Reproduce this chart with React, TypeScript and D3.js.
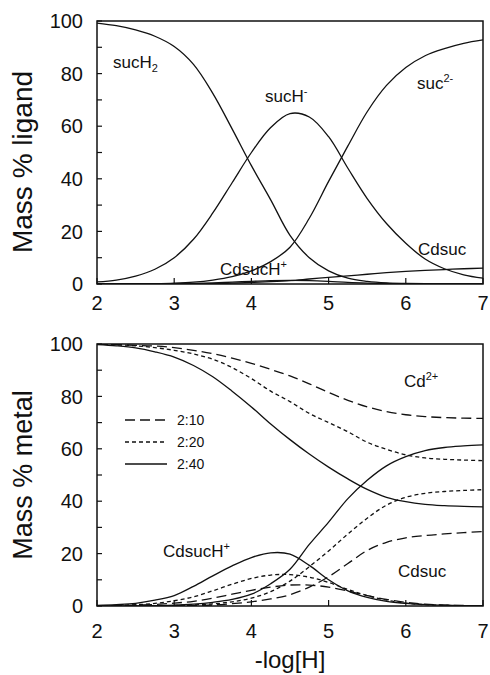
import React from "react";
import * as d3 from "d3";

// -log[H] grid shared by every curve
const pH = [2, 2.25, 2.5, 2.75, 3, 3.25, 3.5, 3.75, 4, 4.25, 4.5, 4.75, 5, 5.25, 5.5, 5.75, 6, 6.25, 6.5, 6.75, 7];

// ----- top panel: mass % ligand
const sucH2 = [99.2, 98.2, 96.6, 94.2, 90.3, 83.5, 72.5, 59, 45, 32, 18.5, 10, 5, 2.2, 1, 0.4, 0.2, 0.1, 0, 0, 0];
const sucH = [0.8, 1.5, 3, 5.6, 10, 17, 27, 38.5, 50, 59.5, 64.8, 63.5, 56, 44, 32.5, 23, 15.5, 9.5, 5.8, 3.5, 2.2];
const suc = [0, 0, 0, 0.1, 0.3, 0.7, 1.5, 2.8, 5, 8.5, 14, 25, 39, 52.5, 65.5, 75.5, 82.3, 86.8, 89.5, 91.5, 92.8];
const cdsucL = [0, 0, 0, 0, 0, 0.05, 0.15, 0.3, 0.6, 0.9, 1.3, 1.9, 2.5, 3.1, 3.7, 4.3, 4.8, 5.2, 5.5, 5.8, 6];
const cdsucHL = [0, 0, 0, 0.05, 0.1, 0.2, 0.4, 0.7, 1, 1.3, 1.4, 1.3, 1, 0.6, 0.35, 0.2, 0.1, 0.05, 0, 0, 0];

// ----- bottom panel: mass % metal, ratios 2:10, 2:20, 2:40
const cd10 = [100, 99.8, 99.5, 99.2, 98.6, 97.6, 96.3, 94.6, 92.6, 90.3, 87.8, 84.8, 81.5, 78.5, 76, 74.2, 73, 72.3, 71.9, 71.7, 71.6];
const cd20 = [100, 99.7, 99.3, 98.6, 97.6, 96.2, 94.2, 91, 86.8, 82, 78, 73.5, 70, 66.5, 62.5, 59.8, 57.7, 56.5, 56, 55.7, 55.5];
const cd40 = [99.8, 99.3, 98.5, 97, 95, 91.8, 87.5, 82, 76, 69.5, 63.5, 58, 53, 48.5, 44.5, 41.5, 39.8, 38.8, 38.3, 38, 37.8];
const cdsuc10 = [0, 0, 0, 0, 0.1, 0.2, 0.4, 0.9, 1.6, 2.7, 4.3, 7.2, 11.2, 16.2, 21.2, 24.3, 26, 26.9, 27.5, 28, 28.4];
const cdsuc20 = [0, 0, 0, 0.1, 0.2, 0.4, 0.8, 1.6, 3, 5.5, 9.5, 15, 21, 27.5, 33.5, 38.5, 41.5, 43, 43.7, 44.1, 44.4];
const cdsuc40 = [0, 0, 0.05, 0.15, 0.3, 0.7, 1.4, 2.5, 4.5, 8.5, 14, 23.5, 32, 41, 48, 53.5, 57, 59.3, 60.5, 61.1, 61.5];
const cdsucH10 = [0, 0.1, 0.3, 0.6, 1.1, 1.8, 3, 4.5, 6, 7.2, 8, 8, 7.2, 5.7, 4, 2.5, 1.4, 0.7, 0.35, 0.2, 0.1];
const cdsucH20 = [0, 0.2, 0.5, 1, 2, 3.5, 5.8, 8.3, 10.5, 11.8, 12, 11, 9, 6.3, 4, 2.2, 1.1, 0.5, 0.25, 0.1, 0.05];
const cdsucH40 = [0.2, 0.5, 1, 2.2, 4, 7.5, 11.5, 15.3, 18.5, 20.3, 19.8, 15.5, 10, 5.8, 3.3, 1.8, 1, 0.5, 0.3, 0.15, 0.1];

const ratios = ["2:10", "2:20", "2:40"];
const dashes = ["10,5", "4,3", null];
const xTicks = [2, 3, 4, 5, 6, 7];
const yTicks = [0, 20, 40, 60, 80, 100];

const FONT = "'Liberation Sans', Arial, Helvetica, sans-serif";
const LEFT = 97;
const RIGHT = 483;

const Panel = ({ top, bottom, series, yTitle, titleY, titleSize, tickBase, children }) => {
  const x = d3.scaleLinear().domain([2, 7]).range([LEFT, RIGHT]);
  const y = d3.scaleLinear().domain([0, 100]).range([bottom, top]);
  const line = d3
    .line<number>()
    .x((_, i) => x(pH[i]))
    .y(d => y(Math.max(0, d)))
    .curve(d3.curveCatmullRom.alpha(0.5));
  const minor = d3.range(0, 101, 10);

  return (
    <g>
      <defs>
        <clipPath id={"clip" + top}>
          <rect x={LEFT} y={top} width={RIGHT - LEFT} height={bottom - top} />
        </clipPath>
      </defs>
      <g clipPath={`url(#clip${top})`}>
        {series.map((s, i) => (
          <path
            key={i}
            d={line(s.values)}
            fill="none"
            stroke="#111"
            strokeWidth={1.3}
            strokeDasharray={s.dash || undefined}
          />
        ))}
      </g>
      <rect x={LEFT} y={top} width={RIGHT - LEFT} height={bottom - top} fill="none" stroke="#111" strokeWidth={1.5} />
      {minor.map(t => (
        <line key={"y" + t} x1={LEFT} x2={LEFT + 5} y1={y(t)} y2={y(t)} stroke="#111" strokeWidth={1.2} />
      ))}
      {xTicks.map(t => (
        <line key={"x" + t} x1={x(t)} x2={x(t)} y1={bottom} y2={bottom - 6} stroke="#111" strokeWidth={1.2} />
      ))}
      {yTicks.map(t => (
        <text key={"yl" + t} x={83} y={y(t)} dy="0.36em" textAnchor="end" fontSize={20}>
          {t}
        </text>
      ))}
      {xTicks.map(t => (
        <text key={"xl" + t} x={x(t)} y={tickBase} textAnchor="middle" fontSize={20}>
          {t}
        </text>
      ))}
      <text transform={`translate(32,${titleY}) rotate(-90)`} textAnchor="middle" fontSize={titleSize}>
        {yTitle}
      </text>
      {children}
    </g>
  );
};

const Sup = ({ children }) => (
  <tspan fontSize={11} dy={-7}>
    {children}
  </tspan>
);

export default function App() {
  const topSeries = [sucH2, sucH, suc, cdsucL, cdsucHL].map(v => ({ values: v, dash: null }));
  const metal = [
    [cd10, cdsuc10, cdsucH10],
    [cd20, cdsuc20, cdsucH20],
    [cd40, cdsuc40, cdsucH40]
  ];
  const botSeries = metal.flatMap((grp, i) => grp.map(v => ({ values: v, dash: dashes[i] })));

  return (
    <svg
      width={490}
      height={675}
      style={{ position: "absolute", left: 0, top: 0, background: "#fff" }}
      fontFamily={FONT}
      fill="#111"
    >
      <Panel top={21} bottom={284} series={topSeries} yTitle="Mass % ligand" titleY={162} titleSize={28} tickBase={310}>
        <text x={113} y={68} fontSize={17}>
          sucH<tspan fontSize={11} dy={4}>2</tspan>
        </text>
        <text x={265} y={102} fontSize={17}>
          sucH<Sup>-</Sup>
        </text>
        <text x={417} y={89} fontSize={17}>
          suc<Sup>2-</Sup>
        </text>
        <text x={418} y={255} fontSize={17}>
          Cdsuc
        </text>
        <text x={220} y={275} fontSize={17}>
          CdsucH<Sup>+</Sup>
        </text>
      </Panel>
      <Panel top={344} bottom={606} series={botSeries} yTitle="Mass % metal" titleY={475} titleSize={27} tickBase={638}>
        <text x={404} y={387} fontSize={17}>
          Cd<Sup>2+</Sup>
        </text>
        <text x={398} y={577} fontSize={17}>
          Cdsuc
        </text>
        <text x={163} y={557} fontSize={17}>
          CdsucH<Sup>+</Sup>
        </text>
        {ratios.map((r, i) => (
          <g key={r} transform={`translate(0,${420 + i * 22})`}>
            <line x1={125} x2={167} y1={0} y2={0} stroke="#111" strokeWidth={1.3} strokeDasharray={dashes[i] || undefined} />
            <text x={177} y={0} dy="0.36em" fontSize={14}>
              {r}
            </text>
          </g>
        ))}
      </Panel>
      <text x={290} y={668} textAnchor="middle" fontSize={24}>
        -log[H]
      </text>
    </svg>
  );
}
